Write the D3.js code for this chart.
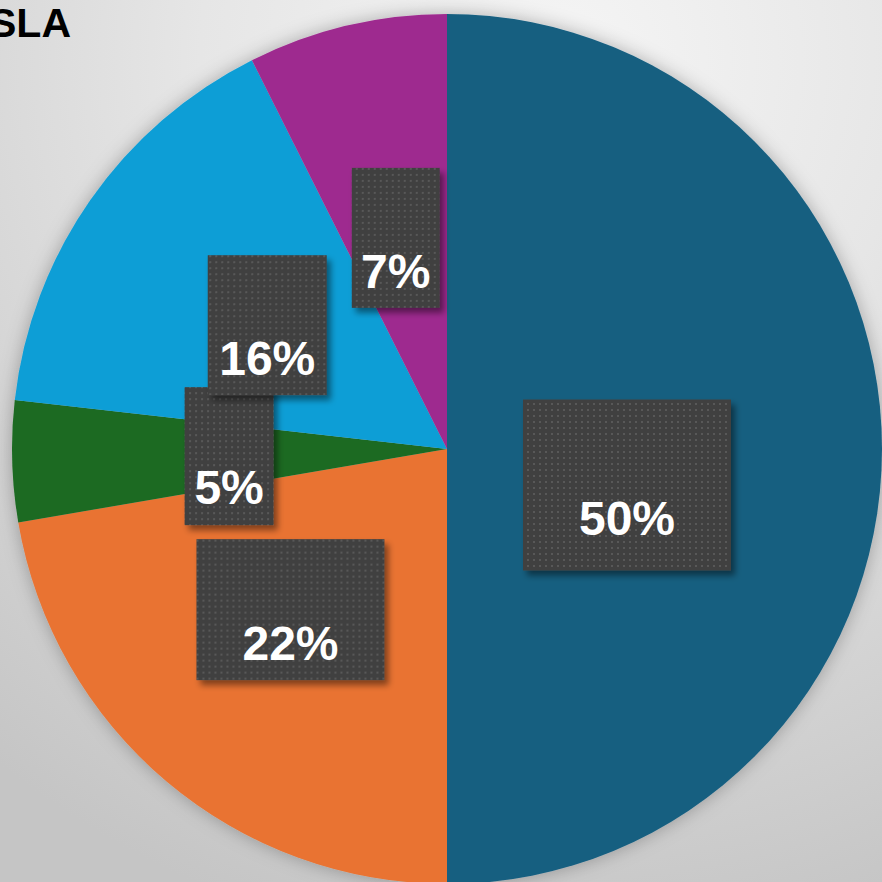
<!DOCTYPE html>
<html>
<head>
<meta charset="utf-8">
<script src="https://cdn.jsdelivr.net/npm/d3@7"></script>
<style>
  html, body { margin: 0; padding: 0; overflow: hidden; }
  svg { display: block; }
</style>
</head>
<body>
<div id="chart"></div>
<script>
// SLA pie - data
const categories = ["A", "B", "C", "D", "E"];
const values = [50, 22.3, 4.5, 15.8, 7.4];
const labels = ["50%", "22%", "5%", "16%", "7%"];
const colors = ["#175f80", "#e97332", "#1b6b23", "#109ed6", "#9e2b8f"];

// label box layout (width, height, offset from centroid, text gap from bottom)
const boxLayout = [
  { w: 208, h: 171, dx: -38, dy: 36, pad: 36 },
  { w: 188, h: 141, dx: -16, dy: -6, pad: 20 },
  { w: 89, h: 138, dx: 0, dy: 1, pad: 21 },
  { w: 119, h: 140, dx: -1, dy: 1, pad: 20 },
  { w: 88, h: 140, dx: -1, dy: 1, pad: 20 }
];

const width = 882, height = 882;
const cx = 447, cy = 449, radius = 435;

const svg = d3
  .select("#chart")
  .append("svg")
  .attr("width", width)
  .attr("height", height);

const defs = svg.append("defs");

const bg = defs
  .append("radialGradient")
  .attr("id", "bg")
  .attr("gradientUnits", "userSpaceOnUse")
  .attr("cx", 560)
  .attr("cy", 60)
  .attr("r", 900);
bg.append("stop").attr("offset", "0%").attr("stop-color", "#f5f5f5");
bg.append("stop").attr("offset", "40%").attr("stop-color", "#e6e6e6");
bg.append("stop").attr("offset", "100%").attr("stop-color", "#c5c5c5");

const dots = defs
  .append("pattern")
  .attr("id", "dots")
  .attr("patternUnits", "userSpaceOnUse")
  .attr("width", 6)
  .attr("height", 6);
dots.append("rect").attr("width", 6).attr("height", 6).attr("fill", "#404040");
dots.append("rect").attr("x", 2).attr("y", 2).attr("width", 2).attr("height", 2).attr("fill", "#585858");

const boxShadow = defs.append("filter").attr("id", "boxShadow")
  .attr("x", "-20%").attr("y", "-20%").attr("width", "150%").attr("height", "150%");
boxShadow.append("feDropShadow")
  .attr("dx", 4).attr("dy", 5).attr("stdDeviation", 3)
  .attr("flood-color", "#000").attr("flood-opacity", 0.45);

const pieShadow = defs.append("filter").attr("id", "pieShadow")
  .attr("x", "-20%").attr("y", "-20%").attr("width", "140%").attr("height", "140%");
pieShadow.append("feDropShadow")
  .attr("dx", 0).attr("dy", 0).attr("stdDeviation", 9)
  .attr("flood-color", "#000").attr("flood-opacity", 0.28);

svg.append("rect").attr("width", width).attr("height", height).attr("fill", "url(#bg)");

svg.append("text")
  .attr("x", -11)
  .attr("y", 37)
  .attr("font-family", "Liberation Sans, Arial, sans-serif")
  .attr("font-weight", "bold")
  .attr("font-size", 41)
  .attr("fill", "#000")
  .text("SLA");

const pie = d3.pie().sort(null).value((d) => d);
const arcs = pie(values);
const arc = d3.arc().innerRadius(0).outerRadius(radius);
const labelArc = d3.arc().innerRadius(218).outerRadius(218);

const g = svg.append("g").attr("transform", `translate(${cx},${cy})`);

g.append("g")
  .attr("filter", "url(#pieShadow)")
  .selectAll("path")
  .data(arcs)
  .enter()
  .append("path")
  .attr("d", arc)
  .attr("fill", (d, i) => colors[i]);

const lab = g
  .selectAll(".lab")
  .data(arcs)
  .enter()
  .append("g")
  .attr("class", "lab")
  .attr("transform", (d, i) => {
    const c = labelArc.centroid(d);
    const b = boxLayout[i];
    return `translate(${c[0] + b.dx},${c[1] + b.dy})`;
  });

lab.append("rect")
  .attr("x", (d, i) => -boxLayout[i].w / 2)
  .attr("y", (d, i) => -boxLayout[i].h / 2)
  .attr("width", (d, i) => boxLayout[i].w)
  .attr("height", (d, i) => boxLayout[i].h)
  .attr("fill", "url(#dots)")
  .attr("filter", "url(#boxShadow)");

lab.append("text")
  .attr("x", 0)
  .attr("y", (d, i) => boxLayout[i].h / 2 - boxLayout[i].pad)
  .attr("text-anchor", "middle")
  .attr("font-family", "Liberation Sans, Arial, sans-serif")
  .attr("font-weight", "bold")
  .attr("font-size", 48)
  .attr("fill", "#fff")
  .text((d, i) => labels[i]);
</script>
</body>
</html>
